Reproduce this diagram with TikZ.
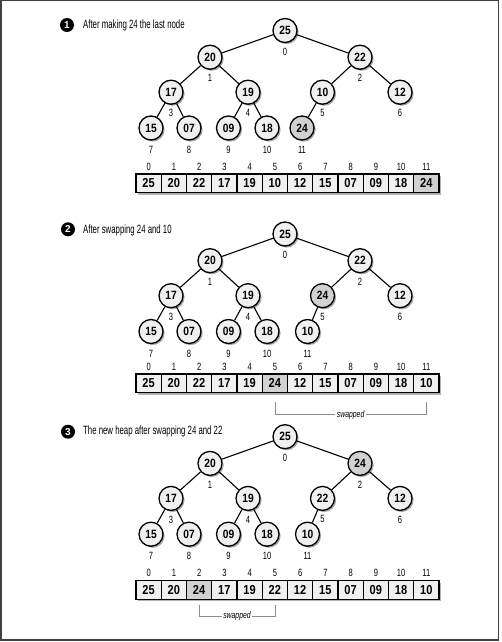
\documentclass[tikz,border=0pt]{standalone}
\usepackage{fontspec}
\setmainfont{Liberation Sans}
\newfontfamily\titlefont{Liberation Sans}[FakeStretch=0.65]
\newfontfamily\idxfont{Liberation Sans}[FakeStretch=0.72]
\newfontfamily\numfont{Liberation Sans}[FakeStretch=0.85]
\usetikzlibrary{shadows,calc}

\definecolor{nodefill}{gray}{0.94}
\definecolor{hlfill}{gray}{0.82}
\definecolor{framec}{gray}{0.25}

\tikzset{
 heapnode/.style={circle, draw, line width=1.3pt, fill=nodefill, minimum size=24pt, inner sep=0pt,
   font=\numfont\bfseries\fontsize{12}{12}\selectfont,
   drop shadow={shadow xshift=1.6pt, shadow yshift=-1.6pt, opacity=0.35, fill=black}},
 hlnode/.style={heapnode, fill=hlfill},
 cell/.style={draw, line width=1.2pt, fill=nodefill, minimum width=25.25pt, minimum height=18.7pt,
   inner sep=0pt, font=\numfont\bfseries\fontsize{13}{13}\selectfont},
 hlcell/.style={cell, fill=hlfill},
 idx/.style={inner sep=0pt, font=\idxfont\fontsize{10.5}{10.5}\selectfont},
 edge/.style={line width=1.1pt},
 bullet/.style={circle, fill=black, text=white, minimum size=14pt, inner sep=0pt,
   font=\bfseries\fontsize{10}{10}\selectfont},
 title/.style={anchor=base west, inner sep=0pt, font=\titlefont\fontsize{12}{12}\selectfont},
 brk/.style={line width=0.6pt, black!45},
 swp/.style={fill=white, inner xsep=1.5pt, inner ysep=1pt, font=\idxfont\itshape\fontsize{9.5}{9.5}\selectfont},
}

% #1 prefix, #2 root y, #3 last-leaf x, #4 values, #5 highlighted index
\newcommand\heaptree[5]{%
 \foreach \v [count=\k from 0] in {#4} {
   \pgfmathsetmacro\xx{{285,210,360,171,248,322.5,400,151,189,228.5,267,#3}[\k]}
   \pgfmathsetmacro\dy{{0,26.7,26.7,61.7,61.7,61.7,61.7,97.5,97.5,97.5,97.5,97.5}[\k]}
   \pgfmathsetmacro\yy{#2+\dy}
   \pgfmathsetmacro\ly{\yy+(\k>6 ? 22 : 21)}
   \ifnum\k=#5 \def\st{hlnode}\else\def\st{heapnode}\fi
   \node[\st] (#1-\k) at (\xx,\yy) {\v};
   \node[idx] (#1-l\k) at (\xx,\ly) {\k};
 }
 \foreach \k in {1,...,11} {
   \pgfmathtruncatemacro\p{(\k-1)/2}
   \draw[edge] (#1-\p) -- (#1-\k);
 }
}

% #1 prefix, #2 top y, #3 values, #4 highlighted index
\newcommand\heaparr[4]{%
 \fill[black, opacity=0.3] (137.8,#2+1.8) rectangle (440.8,#2+20.5);
 \foreach \v [count=\k from 0] in {#3} {
   \pgfmathsetmacro\xx{136+12.625+25.25*\k}
   \ifnum\k=#4 \def\st{hlcell}\else\def\st{cell}\fi
   \node[\st] (#1-\k) at (\xx,#2+9.35) {\v};
   \node[idx] (#1-i\k) at (\xx,#2-7.5) {\k};
 }
}

\begin{document}
\begin{tikzpicture}[x=1pt,y=-1pt]
\useasboundingbox (0,0) rectangle (502,642);
\draw[line width=1.5pt, framec] (0.75,0.75) rectangle (498.5,640);

% ---- section 1
\node[bullet] (b1) at (67,25) {1};
\node[title] (ti1) at (83,29) {After making 24 the last node};
\heaptree{t1}{30.5}{302}{25,20,22,17,19,10,12,15,07,09,18,24}{11}
\heaparr{a1}{174}{25,20,22,17,19,10,12,15,07,09,18,24}{11}

% ---- section 2
\node[bullet] (b2) at (68,229.3) {2};
\node[title] (ti2) at (83,233.3) {After swapping 24 and 10};
\heaptree{t2}{234}{307.5}{25,20,22,17,19,24,12,15,07,09,18,10}{5}
\heaparr{a2}{374}{25,20,22,17,19,24,12,15,07,09,18,10}{5}
\draw[brk] ($(a2-5.south)+(0,9)$) |- ($(a2-11.south)+(0,21.3)$) -- ($(a2-11.south)+(0,9)$);
\node[swp] (s2) at ($(a2-5.south)!0.5!(a2-11.south)+(0,21.3)$) {swapped};

% ---- section 3
\node[bullet] (b3) at (68,431.7) {3};
\node[title] (ti3) at (83,434.5) {The new heap after swapping 24 and 22};
\heaptree{t3}{436.7}{307.5}{25,20,24,17,19,22,12,15,07,09,18,10}{2}
\heaparr{a3}{580.7}{25,20,24,17,19,22,12,15,07,09,18,10}{2}
\draw[brk] ($(a3-2.south)+(0,5.3)$) |- ($(a3-5.south)+(0,16)$) -- ($(a3-5.south)+(0,5.3)$);
\node[swp] (s3) at ($(a3-2.south)!0.5!(a3-5.south)+(0,16)$) {swapped};
\end{tikzpicture}
\end{document}
